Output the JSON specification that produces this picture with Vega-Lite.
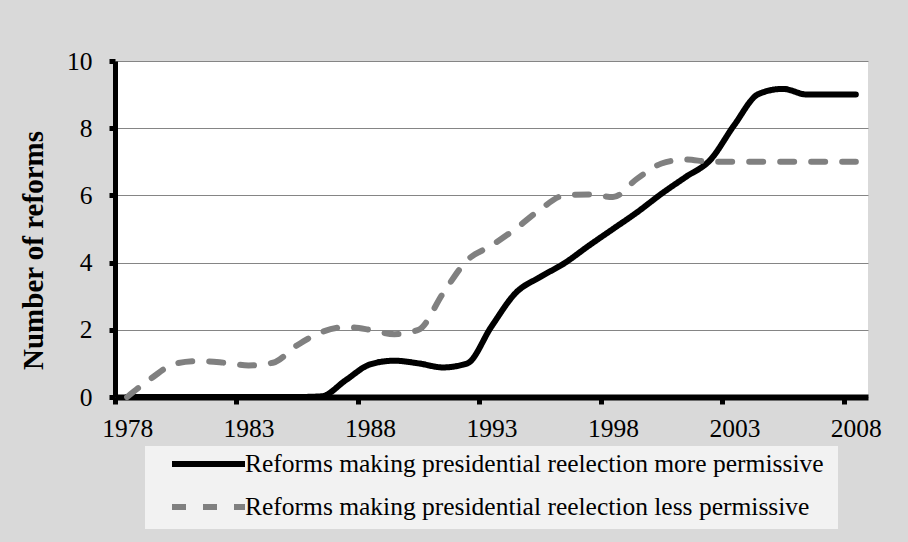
{
  "$schema": "https://vega.github.io/schema/vega-lite/v6.json",
  "width": 753,
  "height": 336,
  "autosize": {"type": "none"},
  "padding": {"left": 115, "top": 61, "right": 40, "bottom": 145},
  "background": "#d9d9d9",
  "config": {
    "font": "Liberation Serif",
    "view": {"fill": "white", "stroke": null}
  },
  "data": {
    "values": [
      {"year": 1978, "series": "Reforms making  presidential reelection more permissive", "value": 0},
      {"year": 1979, "series": "Reforms making  presidential reelection more permissive", "value": 0},
      {"year": 1980, "series": "Reforms making  presidential reelection more permissive", "value": 0},
      {"year": 1981, "series": "Reforms making  presidential reelection more permissive", "value": 0},
      {"year": 1982, "series": "Reforms making  presidential reelection more permissive", "value": 0},
      {"year": 1983, "series": "Reforms making  presidential reelection more permissive", "value": 0},
      {"year": 1984, "series": "Reforms making  presidential reelection more permissive", "value": 0},
      {"year": 1985, "series": "Reforms making  presidential reelection more permissive", "value": 0},
      {"year": 1986, "series": "Reforms making  presidential reelection more permissive", "value": 0.02},
      {"year": 1987, "series": "Reforms making  presidential reelection more permissive", "value": 0.5},
      {"year": 1988, "series": "Reforms making  presidential reelection more permissive", "value": 0.97},
      {"year": 1989, "series": "Reforms making  presidential reelection more permissive", "value": 1.08},
      {"year": 1990, "series": "Reforms making  presidential reelection more permissive", "value": 1.0},
      {"year": 1991, "series": "Reforms making  presidential reelection more permissive", "value": 0.88},
      {"year": 1992, "series": "Reforms making  presidential reelection more permissive", "value": 1.0},
      {"year": 1993, "series": "Reforms making  presidential reelection more permissive", "value": 2.1},
      {"year": 1994, "series": "Reforms making  presidential reelection more permissive", "value": 3.1},
      {"year": 1995, "series": "Reforms making  presidential reelection more permissive", "value": 3.57},
      {"year": 1996, "series": "Reforms making  presidential reelection more permissive", "value": 3.98},
      {"year": 1997, "series": "Reforms making  presidential reelection more permissive", "value": 4.5},
      {"year": 1998, "series": "Reforms making  presidential reelection more permissive", "value": 5.0},
      {"year": 1999, "series": "Reforms making  presidential reelection more permissive", "value": 5.5},
      {"year": 2000, "series": "Reforms making  presidential reelection more permissive", "value": 6.05},
      {"year": 2001, "series": "Reforms making  presidential reelection more permissive", "value": 6.55},
      {"year": 2002, "series": "Reforms making  presidential reelection more permissive", "value": 7.05},
      {"year": 2003, "series": "Reforms making  presidential reelection more permissive", "value": 8.1},
      {"year": 2004, "series": "Reforms making  presidential reelection more permissive", "value": 9.02},
      {"year": 2005, "series": "Reforms making  presidential reelection more permissive", "value": 9.17},
      {"year": 2006, "series": "Reforms making  presidential reelection more permissive", "value": 9.0},
      {"year": 2007, "series": "Reforms making  presidential reelection more permissive", "value": 9.0},
      {"year": 2008, "series": "Reforms making  presidential reelection more permissive", "value": 9.0},
      {"year": 1978, "series": "Reforms making  presidential reelection less permissive", "value": 0},
      {"year": 1979, "series": "Reforms making  presidential reelection less permissive", "value": 0.56},
      {"year": 1980, "series": "Reforms making  presidential reelection less permissive", "value": 1.0},
      {"year": 1981, "series": "Reforms making  presidential reelection less permissive", "value": 1.07},
      {"year": 1982, "series": "Reforms making  presidential reelection less permissive", "value": 1.02},
      {"year": 1983, "series": "Reforms making  presidential reelection less permissive", "value": 0.94},
      {"year": 1984, "series": "Reforms making  presidential reelection less permissive", "value": 1.02},
      {"year": 1985, "series": "Reforms making  presidential reelection less permissive", "value": 1.54},
      {"year": 1986, "series": "Reforms making  presidential reelection less permissive", "value": 1.93},
      {"year": 1987, "series": "Reforms making  presidential reelection less permissive", "value": 2.08},
      {"year": 1988, "series": "Reforms making  presidential reelection less permissive", "value": 2.0},
      {"year": 1989, "series": "Reforms making  presidential reelection less permissive", "value": 1.87},
      {"year": 1990, "series": "Reforms making  presidential reelection less permissive", "value": 2.0},
      {"year": 1991, "series": "Reforms making  presidential reelection less permissive", "value": 3.08},
      {"year": 1992, "series": "Reforms making  presidential reelection less permissive", "value": 4.07},
      {"year": 1993, "series": "Reforms making  presidential reelection less permissive", "value": 4.51},
      {"year": 1994, "series": "Reforms making  presidential reelection less permissive", "value": 5.01},
      {"year": 1995, "series": "Reforms making  presidential reelection less permissive", "value": 5.58},
      {"year": 1996, "series": "Reforms making  presidential reelection less permissive", "value": 6.0},
      {"year": 1997, "series": "Reforms making  presidential reelection less permissive", "value": 6.03},
      {"year": 1998, "series": "Reforms making  presidential reelection less permissive", "value": 5.95},
      {"year": 1999, "series": "Reforms making  presidential reelection less permissive", "value": 6.5},
      {"year": 2000, "series": "Reforms making  presidential reelection less permissive", "value": 6.95},
      {"year": 2001, "series": "Reforms making  presidential reelection less permissive", "value": 7.07},
      {"year": 2002, "series": "Reforms making  presidential reelection less permissive", "value": 7.0},
      {"year": 2003, "series": "Reforms making  presidential reelection less permissive", "value": 7.0},
      {"year": 2004, "series": "Reforms making  presidential reelection less permissive", "value": 7.0},
      {"year": 2005, "series": "Reforms making  presidential reelection less permissive", "value": 7.0},
      {"year": 2006, "series": "Reforms making  presidential reelection less permissive", "value": 7.0},
      {"year": 2007, "series": "Reforms making  presidential reelection less permissive", "value": 7.0},
      {"year": 2008, "series": "Reforms making  presidential reelection less permissive", "value": 7.0}
    ]
  },
  "mark": {"type": "line", "interpolate": "monotone", "strokeWidth": 6, "strokeCap": "round", "strokeJoin": "round"},
  "encoding": {
    "x": {
      "field": "year",
      "type": "quantitative",
      "scale": {"domain": [1977.5, 2008.5], "nice": false, "zero": false},
      "axis": {
        "title": null,
        "values": [1978, 1983, 1988, 1993, 1998, 2003, 2008],
        "format": "d",
        "grid": false,
        "tickOffset": -12.15,
        "labelOffset": 12.15,
        "domainColor": "black",
        "domainWidth": 6,
        "tickColor": "black",
        "tickWidth": 5,
        "tickSize": 7,
        "labelPadding": 12,
        "labelFont": "Liberation Serif",
        "labelFontSize": 25.5,
        "labelColor": "black",
        "labelFlush": false,
        "labelOverlap": false
      }
    },
    "y": {
      "field": "value",
      "type": "quantitative",
      "scale": {"domain": [0, 10], "nice": false},
      "axis": {
        "title": "Number of reforms",
        "titleFont": "Liberation Serif",
        "titleFontSize": 29,
        "titleFontWeight": "bold",
        "titleColor": "black",
        "titleAngle": -90,
        "titleAlign": "center",
        "titleBaseline": "alphabetic",
        "titleX": -73,
        "titleY": 189,
        "values": [0, 2, 4, 6, 8, 10],
        "grid": true,
        "gridColor": "#858585",
        "gridWidth": 1.2,
        "domainColor": "black",
        "domainWidth": 5,
        "tickColor": "black",
        "tickWidth": 5,
        "tickSize": 6,
        "labelPadding": 17,
        "labelFont": "Liberation Serif",
        "labelFontSize": 25.5,
        "labelColor": "black"
      }
    },
    "color": {
      "field": "series",
      "type": "nominal",
      "scale": {
        "domain": ["Reforms making  presidential reelection more permissive", "Reforms making  presidential reelection less permissive"],
        "range": ["#000000", "#808080"]
      },
      "legend": {
        "title": null,
        "orient": "none",
        "legendX": 30,
        "legendY": 385,
        "fillColor": "#f2f2f2",
        "strokeColor": null,
        "padding": 8,
        "symbolType": "stroke",
        "symbolSize": 5329,
        "symbolStrokeWidth": 6,
        "symbolOffset": 16,
        "clipHeight": 20,
        "rowPadding": 17,
        "labelOffset": -3,
        "labelFont": "Liberation Serif",
        "labelFontSize": 25.5,
        "labelColor": "black",
        "labelLimit": 1000
      }
    },
    "strokeDash": {
      "field": "series",
      "type": "nominal",
      "scale": {
        "domain": ["Reforms making  presidential reelection more permissive", "Reforms making  presidential reelection less permissive"],
        "range": [[1, 0], [14, 17]]
      },
      "legend": null
    }
  }
}
